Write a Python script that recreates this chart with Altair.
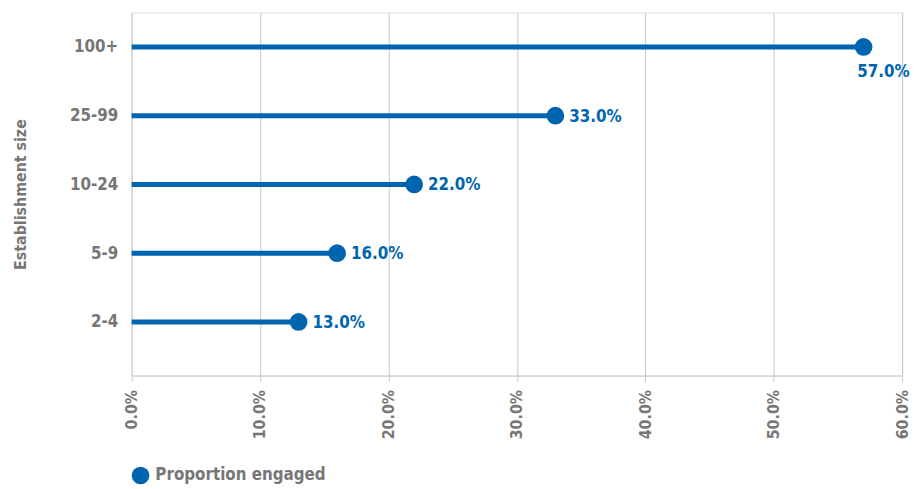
import altair as alt
import pandas as pd

categories = ["100+", "25-99", "10-24", "5-9", "2-4"]
values = [0.57, 0.33, 0.22, 0.16, 0.13]
series_name = "Proportion engaged"

df = pd.DataFrame({"size": categories, "value": values, "series": series_name})

FONT = "DejaVu Sans Condensed, Roboto, sans-serif"
BLUE = "#0065b0"
GRAY = "#767676"

y_enc = alt.Y(
    "size:N",
    sort=categories,
    scale=alt.Scale(type="point", padding=0.64, align=0.39),
    axis=alt.Axis(
        title="Establishment size",
        titleFont=FONT, titleFontSize=16, titleFontWeight="bold", titleColor=GRAY,
        titlePadding=41,
        labelFont=FONT, labelFontSize=17, labelFontWeight="bold", labelColor=GRAY,
        labelPadding=14, ticks=False, domain=False, grid=False,
    ),
)
x_enc = alt.X(
    "value:Q",
    scale=alt.Scale(domain=[0, 0.6]),
    axis=alt.Axis(
        title=None, format=".1%", values=[0, 0.1, 0.2, 0.3, 0.4, 0.5, 0.6],
        labelAngle=-90, labelFont=FONT, labelFontSize=16, labelFontWeight="bold",
        labelColor=GRAY, labelPadding=8, labelAlign="right", labelBaseline="middle",
        tickColor="#c8c8c8", tickSize=6, domainColor="#c8c8c8",
        grid=True, gridColor="#c8c8c8",
    ),
)

base = alt.Chart(df)

lines = base.mark_rule(color=BLUE, strokeWidth=5).encode(
    y=y_enc, x=x_enc, x2=alt.datum(0)
)
dots = base.mark_circle(size=320, opacity=1).encode(
    y=alt.Y("size:N", sort=categories),
    x=alt.X("value:Q"),
    color=alt.Color(
        "series:N",
        scale=alt.Scale(range=[BLUE]),
        legend=alt.Legend(
            title=None, orient="none", legendX=0, legendY=459,
            symbolType="circle", symbolSize=320, symbolStrokeWidth=0,
            labelFont=FONT, labelFontSize=17, labelFontWeight="bold",
            labelColor=GRAY, labelOffset=6, labelLimit=400,
        ),
    ),
)
labels = base.transform_filter(alt.datum.value < 0.5).mark_text(
    align="left", baseline="middle", dx=14, dy=1, font=FONT, fontSize=17,
    fontWeight="bold", color=BLUE,
).encode(
    y=alt.Y("size:N", sort=categories), x="value:Q", text=alt.Text("value:Q", format=".1%")
)
labels_top = base.transform_filter(alt.datum.value >= 0.5).mark_text(
    align="center", baseline="middle", dx=20, dy=25, font=FONT, fontSize=17,
    fontWeight="bold", color=BLUE,
).encode(
    y=alt.Y("size:N", sort=categories), x="value:Q", text=alt.Text("value:Q", format=".1%")
)

chart = (
    alt.layer(lines, dots, labels, labels_top)
    .properties(width=779, height=367, padding={"left": 5, "top": 2, "right": 2, "bottom": 0})
    .configure_view(stroke=None)
    .configure(background="white")
)

chart.save("out.html", embed_options={"renderer": "svg", "actions": False})
